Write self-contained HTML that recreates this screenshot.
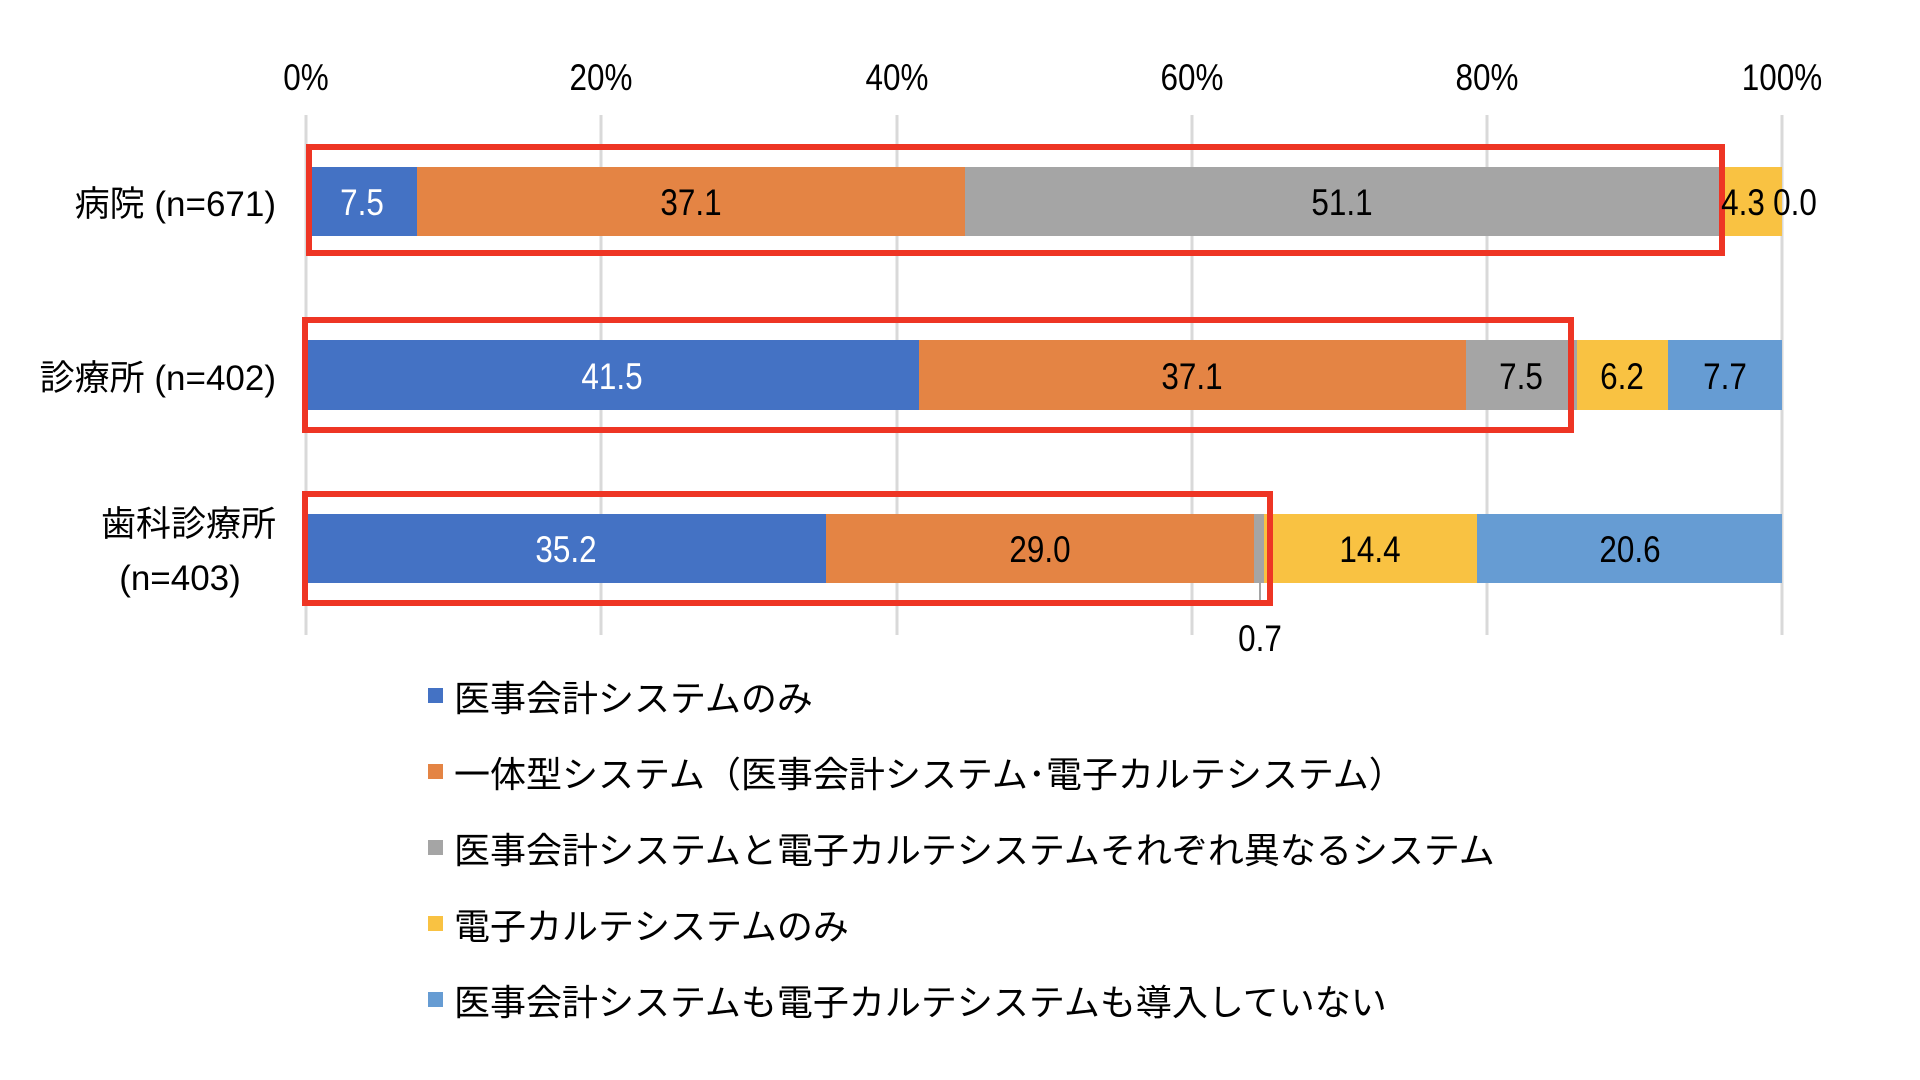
<!DOCTYPE html>
<html><head><meta charset="utf-8"><style>
html,body{margin:0;padding:0;background:#fff;}
svg{display:block;}
text{font-family:"Liberation Sans","Noto Sans CJK JP",sans-serif;}
.n{font-family:"Liberation Sans",sans-serif;font-size:37px;}
.c{font-family:"Liberation Sans","Noto Sans CJK JP",sans-serif;font-size:35px;fill:#000;}
.l{font-family:"Liberation Sans","Noto Sans CJK JP",sans-serif;font-size:36px;fill:#000;}
</style></head><body>
<svg width="1920" height="1080" viewBox="0 0 1920 1080" xmlns="http://www.w3.org/2000/svg">
<rect width="1920" height="1080" fill="#fff"/>
<g stroke="#d9d9d9" stroke-width="3">
<line x1="306" y1="115" x2="306" y2="635"/>
<line x1="601" y1="115" x2="601" y2="635"/>
<line x1="897" y1="115" x2="897" y2="635"/>
<line x1="1192" y1="115" x2="1192" y2="635"/>
<line x1="1487" y1="115" x2="1487" y2="635"/>
<line x1="1782" y1="115" x2="1782" y2="635"/>
</g>
<g class="n" text-anchor="middle" fill="#000" transform="scale(0.85,1)">
<text x="360" y="90">0%</text>
<text x="707.1" y="90">20%</text>
<text x="1055.3" y="90">40%</text>
<text x="1402.4" y="90">60%</text>
<text x="1749.4" y="90">80%</text>
<text x="2096.5" y="90">100%</text>
</g>
<rect x="306" y="167" width="111" height="69" fill="#4472C4"/>
<rect x="417" y="167" width="548" height="69" fill="#E48444"/>
<rect x="965" y="167" width="754" height="69" fill="#A5A5A5"/>
<rect x="1719" y="167" width="63" height="69" fill="#F9C242"/>
<rect x="306" y="340" width="613" height="70" fill="#4472C4"/>
<rect x="919" y="340" width="547" height="70" fill="#E48444"/>
<rect x="1466" y="340" width="111" height="70" fill="#A5A5A5"/>
<rect x="1577" y="340" width="91" height="70" fill="#F9C242"/>
<rect x="1668" y="340" width="114" height="70" fill="#669CD3"/>
<rect x="306" y="514" width="520" height="69" fill="#4472C4"/>
<rect x="826" y="514" width="428" height="69" fill="#E48444"/>
<rect x="1254" y="514" width="10" height="69" fill="#A5A5A5"/>
<rect x="1264" y="514" width="213" height="69" fill="#F9C242"/>
<rect x="1477" y="514" width="305" height="69" fill="#669CD3"/>
<line x1="1260" y1="583" x2="1260" y2="600" stroke="#A5A5A5" stroke-width="2"/>
<g fill="none" stroke="#EE3524" stroke-width="6">
<rect x="309" y="147" width="1413" height="106"/>
<rect x="305" y="320" width="1266" height="110"/>
<rect x="305" y="494" width="965" height="109"/>
</g>
<g class="n" text-anchor="middle" transform="scale(0.85,1)">
<text x="425.9" y="215" fill="#fff">7.5</text>
<text x="812.9" y="215" fill="#000">37.1</text>
<text x="1578.8" y="215" fill="#000">51.1</text>
<text x="2050.6" y="215" fill="#000">4.3</text>
<text x="2111.8" y="215" fill="#000">0.0</text>
<text x="720" y="389" fill="#fff">41.5</text>
<text x="1402.4" y="389" fill="#000">37.1</text>
<text x="1789.4" y="389" fill="#000">7.5</text>
<text x="1908.2" y="389" fill="#000">6.2</text>
<text x="2029.4" y="389" fill="#000">7.7</text>
<text x="665.9" y="562" fill="#fff">35.2</text>
<text x="1223.5" y="562" fill="#000">29.0</text>
<text x="1611.8" y="562" fill="#000">14.4</text>
<text x="1917.6" y="562" fill="#000">20.6</text>
<text x="1482.4" y="651" fill="#000">0.7</text>
</g>
<g class="c" text-anchor="end">
<text x="276" y="216">病院 (n=671)</text>
<text x="276" y="390">診療所 (n=402)</text>
<text x="276" y="536">歯科診療所</text>
</g>
<text class="c" x="180" y="590" text-anchor="middle">(n=403)</text>
<rect x="428" y="688" width="15" height="15" fill="#4472C4"/>
<rect x="428" y="764" width="15" height="15" fill="#E48444"/>
<rect x="428" y="840" width="15" height="15" fill="#A5A5A5"/>
<rect x="428" y="916" width="15" height="15" fill="#F9C242"/>
<rect x="428" y="992" width="15" height="15" fill="#669CD3"/>
<g class="l">
<text x="454" y="711">医事会計システムのみ</text>
<text x="454" y="787">一体型システム（医事会計システム･電子カルテシステム）</text>
<text x="454" y="863">医事会計システムと電子カルテシステムそれぞれ異なるシステム</text>
<text x="454" y="939">電子カルテシステムのみ</text>
<text x="454" y="1015">医事会計システムも電子カルテシステムも導入していない</text>
</g>
</svg>
</body></html>
